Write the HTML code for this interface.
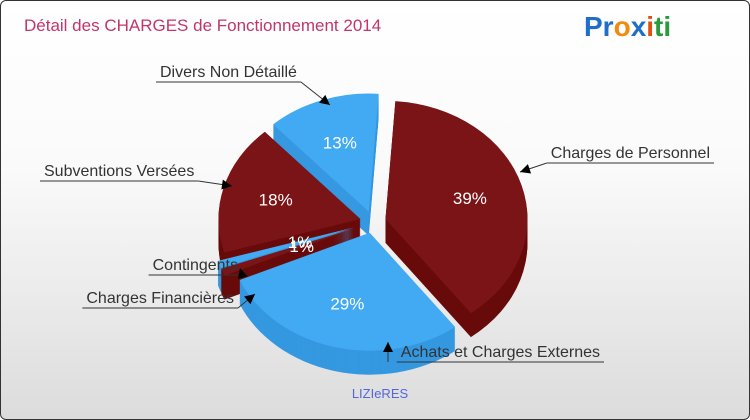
<!DOCTYPE html>
<html><head><meta charset="utf-8"><style>
body{margin:0;width:750px;height:420px;overflow:hidden;font-family:"Liberation Sans",sans-serif}
#wrap{position:absolute;left:0;top:0;width:748px;height:418px;border:1px solid #333;border-radius:6px;background:linear-gradient(#fff,#fafafa 40%,#dcdcdc)}
</style></head><body>
<div id="wrap">
<svg id="svg" width="750" height="420" style="position:absolute;left:-1px;top:-1px">
<text x="24" y="31" font-size="17" fill="#c2356a">Détail des CHARGES de Fonctionnement 2014</text>
<text x="584" y="36" font-size="28" font-weight="bold"><tspan fill="#1f6fc8">Pr</tspan><tspan fill="#f08a10">o</tspan><tspan fill="#1f6fc8">x</tspan><tspan fill="#e05010">i</tspan><tspan fill="#2a9a3a">ti</tspan></text>
<text x="380" y="398" font-size="13" fill="#5566dd" text-anchor="middle">LIZIeRES</text>
<g id="pie"></g>
<g id="labels" font-size="16" fill="#333"></g>
</svg></div>
<script>
const categories=["Charges de Personnel","Achats et Charges Externes","Charges Financières","Contingents","Subventions Versées","Divers Non Détaillé"];
const values=[39,29,1,1,18,13];
const pctLabels=["39%","29%","1%","1%","18%","13%"];
const colors=[["#7b1416","#680b0b"],["#42aaf2","#3598e0"],["#7b1416","#680b0b"],["#42aaf2","#3598e0"],["#7b1416","#680b0b"],["#42aaf2","#3598e0"]];
const labelPos=[[710,158,"end",520,172],[600,357,"end",388,342],[234,303,"end",255,294],[238,270,"end",240,268],[44,176,"start",232,186],[160,77,"start",330,105]];
const NS="http://www.w3.org/2000/svg";
const cx=373,cy=222,rx=142,ry=118,depth=24,start=-86*Math.PI/180;
const pie=document.getElementById('pie'),lab=document.getElementById('labels');
const tot=values.reduce((a,b)=>a+b,0);
let a=start;const sl=[];
values.forEach((v,i)=>{const a0=a,a1=a+v/tot*2*Math.PI;a=a1;const m=(a0+a1)/2;const ex=v<5?20:13;sl.push({i,a0,a1,m,ox:ex*Math.cos(m),oy:ex*0.85*Math.sin(m)});});
function path(s,dy){const x0=cx+s.ox,y0=cy+s.oy+dy;const p1=[x0+rx*Math.cos(s.a0),y0+ry*Math.sin(s.a0)],p2=[x0+rx*Math.cos(s.a1),y0+ry*Math.sin(s.a1)];
const large=(s.a1-s.a0)>Math.PI?1:0;return `M${x0},${y0}L${p1[0]},${p1[1]}A${rx},${ry} 0 ${large} 1 ${p2[0]},${p2[1]}Z`;}
const order=[...sl].sort((p,q)=>Math.sin(p.m)-Math.sin(q.m));
order.forEach(s=>{const g=document.createElementNS(NS,'g');


for(let d=depth;d>0;d-=1){const p=document.createElementNS(NS,'path');p.setAttribute('d',path(s,d));p.setAttribute('fill',colors[s.i][1]);g.appendChild(p);}
const t=document.createElementNS(NS,'path');t.setAttribute('d',path(s,0));t.setAttribute('fill',colors[s.i][0]);


g.appendChild(t);pie.appendChild(g);});
sl.forEach(s=>{const r=s.i==2||s.i==3?0.4:0.62;const tx=document.createElementNS(NS,'text');
tx.setAttribute('x',cx+s.ox+rx*r*Math.cos(s.m));tx.setAttribute('y',cy+s.oy+ry*r*Math.sin(s.m)+6);
tx.setAttribute('fill','#fff');tx.setAttribute('font-size','17');tx.setAttribute('text-anchor','middle');


tx.textContent=pctLabels[s.i];pie.appendChild(tx);});
labelPos.forEach((L,i)=>{const t=document.createElementNS(NS,'text');t.setAttribute('x',L[0]);t.setAttribute('y',L[1]);t.setAttribute('text-anchor',L[2]);


t.textContent=categories[i];lab.appendChild(t);
const w=t.getComputedTextLength();const lx0=L[2]=="end"?L[0]-w-4:L[0]-4,lx1=L[2]=="end"?L[0]+4:L[0]+w+4;const ly=L[1]+5;
const near=Math.abs(L[3]-lx0)<Math.abs(L[3]-lx1)?lx0:lx1;
const pl=document.createElementNS(NS,'polyline');pl.setAttribute('points',`${lx0},${ly} ${lx1},${ly}`);pl.setAttribute('stroke','#333');pl.setAttribute('fill','none');


lab.appendChild(pl);
const ln=document.createElementNS(NS,'line');ln.setAttribute('x1',i==1?L[3]:near);ln.setAttribute('y1',ly);ln.setAttribute('x2',L[3]);ln.setAttribute('y2',L[4]);ln.setAttribute('stroke','#333');


lab.appendChild(ln);
const dx=L[3]-(i==1?L[3]:near),dy=L[4]-ly,len=Math.hypot(dx,dy)||1,ux=dx/len,uy=dy/len;
const ar=document.createElementNS(NS,'polygon');const bx=L[3]-ux*10,by=L[4]-uy*10;
ar.setAttribute('points',`${L[3]},${L[4]} ${bx-uy*5},${by+ux*5} ${bx+uy*5},${by-ux*5}`);ar.setAttribute('fill','#000');


lab.appendChild(ar);});
</script>
</body></html>
